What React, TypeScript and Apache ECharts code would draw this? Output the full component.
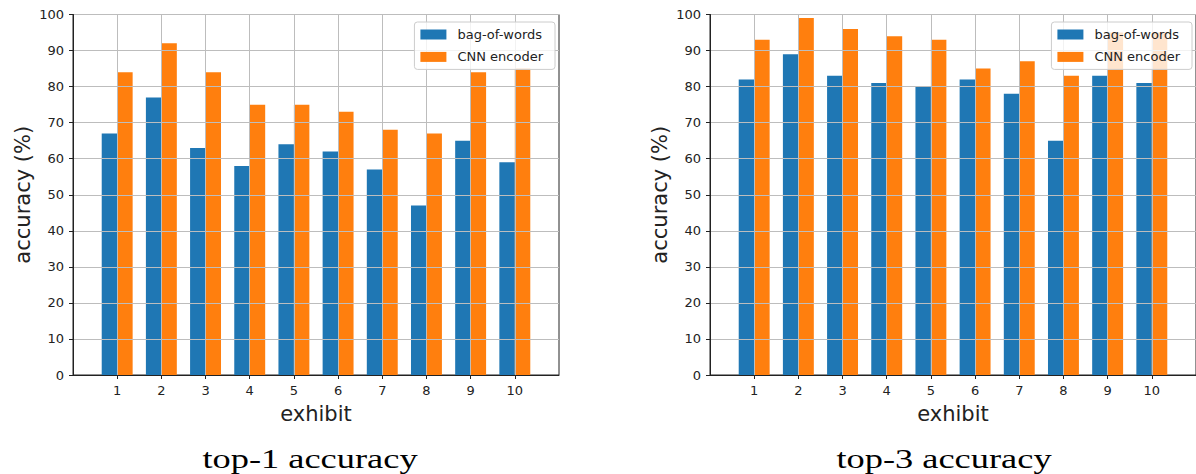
import React, { useEffect, useRef } from "react";
import * as echarts from "echarts";

// ---- data ----
const exhibits = ["1", "2", "3", "4", "5", "6", "7", "8", "9", "10"];
const seriesNames = ["bag-of-words", "CNN encoder"];
const top1BagOfWords = [67, 77, 63, 58, 64, 62, 57, 47, 65, 59];
const top1CnnEncoder = [84, 92, 84, 75, 75, 73, 68, 67, 84, 85];
const top3BagOfWords = [82, 89, 83, 81, 80, 82, 78, 65, 83, 81];
const top3CnnEncoder = [93, 99, 96, 94, 93, 85, 87, 83, 95, 95];
const panelTitles = ["top-1 accuracy", "top-3 accuracy"];
const xAxisTitle = "exhibit";
const yAxisTitle = "accuracy (%)";
const yMin = 0;
const yMax = 100;
const yStep = 10;

const BLUE = "#1f77b4";
const ORANGE = "#ff7f0e";
const INK = "#222222";
const GRIDLINE = "#bdbdbd";

// category axis padded with an empty slot on each side (x range 0..11)
const axisCats = ["", ...exhibits, ""];
const pad = (v: number[]) => [null, ...v, null];
const innerIdx = (i: number) => i > 0 && i < axisCats.length - 1;

const grids = [
  { left: 73, top: 14.5, width: 486, height: 360.5 },
  { left: 710, top: 14.5, width: 488, height: 360.5 },
];
const legendRight = [641, 4];
const titleX = [310, 944];

function buildOption() {
  const xAxes = grids.map((_, gi) => ({
    type: "category",
    gridIndex: gi,
    data: axisCats,
    boundaryGap: false,
    z: 3,
    axisLine: { show: true, lineStyle: { color: INK, width: 1 } },
    axisTick: {
      show: true,
      length: 4,
      inside: false,
      interval: (i: number) => innerIdx(i),
      lineStyle: { color: INK, width: 1 },
    },
    axisLabel: {
      show: true,
      interval: (i: number) => innerIdx(i),
      margin: 9,
      fontFamily: "DejaVu Sans",
      fontSize: 13,
      color: INK,
    },
    splitLine: {
      show: true,
      interval: (i: number) => innerIdx(i),
      lineStyle: { color: GRIDLINE, width: 1 },
    },
    name: xAxisTitle,
    nameLocation: "middle",
    nameGap: 28,
    nameTextStyle: { fontFamily: "DejaVu Sans", fontSize: 21, color: INK },
  }));
  const yAxes = grids.map((_, gi) => ({
    type: "value",
    gridIndex: gi,
    min: yMin,
    max: yMax,
    interval: yStep,
    z: 3,
    axisLine: { show: true, lineStyle: { color: INK, width: 1 } },
    axisTick: { show: true, length: 4, inside: false, lineStyle: { color: INK, width: 1 } },
    axisLabel: { margin: 9, fontFamily: "DejaVu Sans", fontSize: 13, color: INK },
    splitLine: { show: true, lineStyle: { color: GRIDLINE, width: 1 } },
    name: yAxisTitle,
    nameLocation: "middle",
    nameRotate: 90,
    nameGap: 40,
    nameTextStyle: { fontFamily: "DejaVu Sans", fontSize: 21, color: INK },
  }));
  const panels = [
    [top1BagOfWords, top1CnnEncoder],
    [top3BagOfWords, top3CnnEncoder],
  ];
  const colors = [BLUE, ORANGE];
  const series: any[] = [];
  panels.forEach((pair, gi) => {
    pair.forEach((vals, si) => {
      series.push({
        type: "bar",
        name: seriesNames[si],
        xAxisIndex: gi,
        yAxisIndex: gi,
        data: pad(vals),
        barWidth: "35%",
        barGap: "0%",
        itemStyle: { color: colors[si] },
        z: 2,
      });
    });
  });
  const legends = grids.map((_, gi) => ({
    data: seriesNames,
    orient: "vertical",
    align: "left",
    right: legendRight[gi],
    top: 22,
    icon: "rect",
    itemWidth: 26,
    itemHeight: 10,
    itemGap: 9.4,
    padding: [6, 12, 6, 6],
    backgroundColor: "rgba(255,255,255,0.8)",
    borderColor: "#cccccc",
    borderWidth: 1,
    borderRadius: 3,
    selectedMode: false,
    z: 6,
    textStyle: {
      fontFamily: "DejaVu Sans",
      fontSize: 13,
      color: INK,
      padding: [0, 0, 0, 6],
    },
  }));
  const graphic = panelTitles.map((t, i) => ({
    type: "text",
    x: titleX[i],
    y: 459,
    scaleX: 1.3,
    style: {
      text: t,
      fontFamily: "Liberation Serif",
      fontSize: 28,
      fill: "#000000",
      align: "center",
      verticalAlign: "middle",
    },
  }));
  return {
    animation: false,
    backgroundColor: "#ffffff",
    grid: grids.map((g) => ({
      ...g,
      show: true,
      borderColor: INK,
      borderWidth: 1,
      backgroundColor: "transparent",
      containLabel: false,
    })),
    xAxis: xAxes,
    yAxis: yAxes,
    legend: legends,
    series,
    graphic,
  };
}

export default function App() {
  const ref = useRef<HTMLDivElement>(null);
  useEffect(() => {
    if (!ref.current) return;
    const chart = echarts.init(ref.current, undefined, { renderer: "svg" });
    chart.setOption(buildOption() as any);
    return () => chart.dispose();
  }, []);
  return (
    <div
      ref={ref}
      style={{ position: "absolute", left: 0, top: 0, width: 1196, height: 474, background: "#fff" }}
    />
  );
}
